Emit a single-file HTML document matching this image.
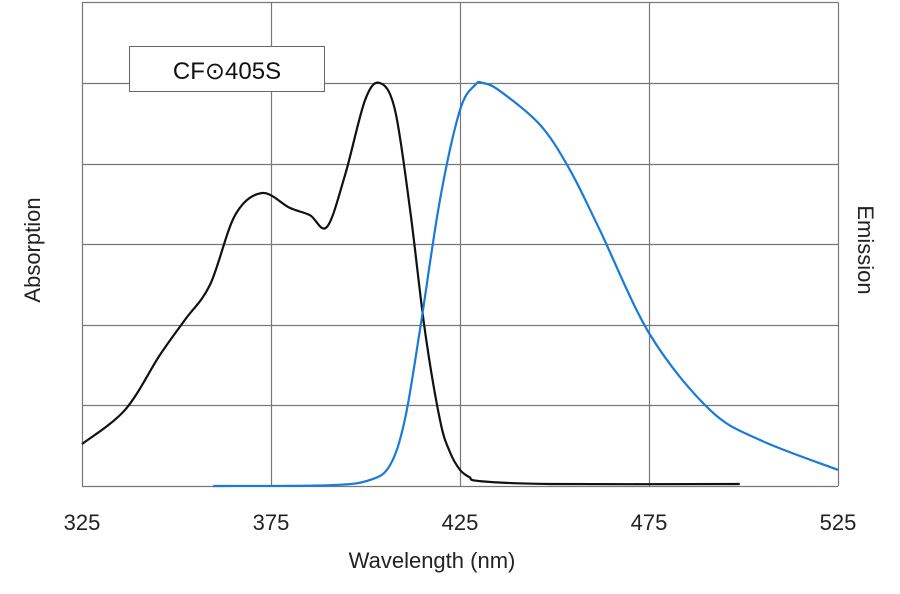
<!DOCTYPE html>
<html><head><meta charset="utf-8"><style>
body{margin:0;background:#fff}
svg{display:block;font-family:"Liberation Sans",sans-serif}
</style></head><body>
<svg id="chart" width="900" height="594">
<g id="grid"></g>
<g id="series"></g>
<g id="labels"></g>
<g>
<rect x="129.5" y="46.5" width="195" height="45" fill="#fff" stroke="#666" stroke-width="1"/>
<text x="227" y="79" text-anchor="middle" font-size="24" fill="#111">CF⊙405S</text>
</g>
<text x="432" y="568" text-anchor="middle" font-size="22" fill="#222">Wavelength (nm)</text>
<text transform="translate(40,250) rotate(-90)" text-anchor="middle" font-size="22" fill="#222">Absorption</text>
<text transform="translate(858,250) rotate(90)" text-anchor="middle" font-size="22" fill="#222">Emission</text>
</svg>
<script>
const xTicks=[325,375,425,475,525];
const yGrid=[0,0.2,0.4,0.6,0.8,1.0,1.2];
const absWl=[325,336.4,345.6,352.2,358.9,365.5,372.6,380,385.3,389.8,394.6,399.9,403.8,407.8,411.8,415.7,419.7,422.3,425,427.5,430.3,448.8,499];
const absVal=[0.104,0.189,0.325,0.412,0.5,0.672,0.727,0.69,0.672,0.643,0.772,0.958,1.0,0.933,0.685,0.387,0.164,0.085,0.04,0.022,0.012,0.005,0.005];
const emWl=[359.7,390.6,401.2,406.5,410.4,414.4,419.7,425,429,431.1,435.6,446.2,454.1,462,475.3,491.1,504.4,525];
const emVal=[0,0.002,0.015,0.052,0.164,0.387,0.71,0.933,0.995,1.0,0.98,0.896,0.784,0.635,0.375,0.189,0.114,0.04];
const NS="http://www.w3.org/2000/svg";
const X0=82,X1=838,Y0=486,Y1=83;
const xs=w=>X0+(w-325)/200*(X1-X0);
const ys=v=>Y0-v*(Y0-Y1);
const grid=document.getElementById('grid'),ser=document.getElementById('series'),lab=document.getElementById('labels');
function mk(t,a,p){const e=document.createElementNS(NS,t);for(const k in a)e.setAttribute(k,a[k]);p.appendChild(e);return e;}
yGrid.forEach(v=>{const y=Math.round(ys(v))+0.5;const l=mk('line',{x1:X0,x2:X1,y1:y,y2:y,stroke:'#777','stroke-width':1.2},grid);

});
xTicks.forEach(t=>{const x=Math.round(xs(t))+0.5;const l=mk('line',{x1:x,x2:x,y1:ys(1.2),y2:Y0,stroke:'#777','stroke-width':1.2},grid);


const tx=mk('text',{x:xs(t),y:530,'text-anchor':'middle','font-size':22,fill:'#222'},lab);tx.textContent=t;

});
function path(wl,val){const p=wl.map((w,i)=>[xs(w),ys(val[i])]);let d='M'+p[0][0]+','+p[0][1];
for(let i=0;i<p.length-1;i++){const a=p[i-1]||p[i],b=p[i],c=p[i+1],e=p[i+2]||c;
d+=' C'+(b[0]+(c[0]-a[0])/6)+','+(b[1]+(c[1]-a[1])/6)+' '+(c[0]-(e[0]-b[0])/6)+','+(c[1]-(e[1]-b[1])/6)+' '+c[0]+','+c[1];}return d;}
const ab=mk('path',{d:path(absWl,absVal),fill:'none',stroke:'#111','stroke-width':2.2},ser);


const em=mk('path',{d:path(emWl,emVal),fill:'none',stroke:'#1a7ad9','stroke-width':2.2},ser);


</script>
</body></html>
